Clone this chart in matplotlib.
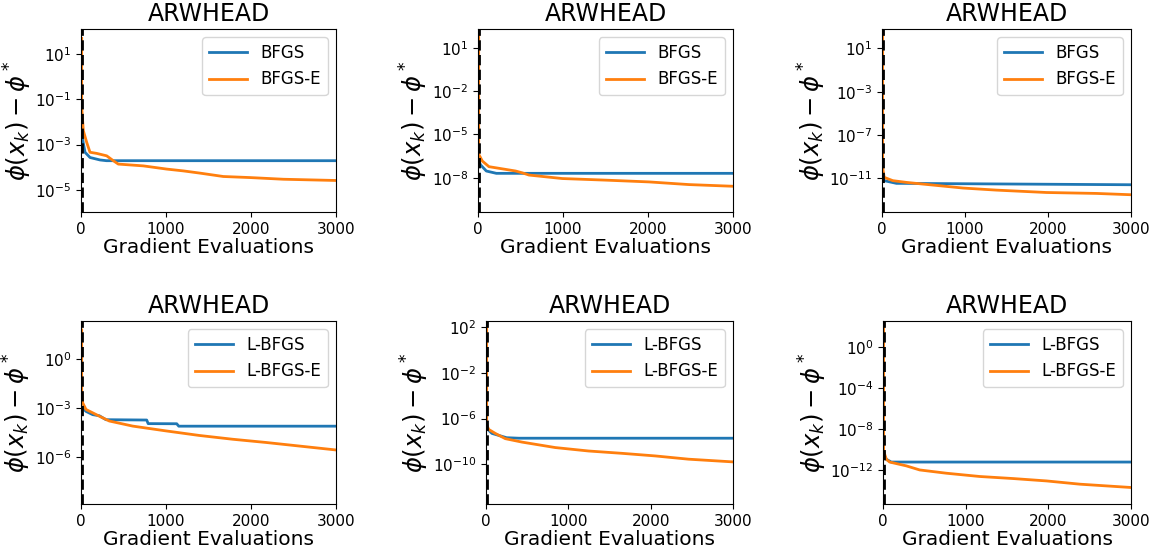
import numpy as np
import matplotlib
matplotlib.use("Agg")
import matplotlib.pyplot as plt

# convergence histories, ARWHEAD, x = gradient evaluations, y = phi(x_k) - phi*
# top row: BFGS vs BFGS-E
p1_bfgs_x = [0, 47, 106, 224, 300, 3000]
p1_bfgs_y = [4.2e-3, 4.6e-4, 2.7e-4, 2.1e-4, 1.95e-4, 1.95e-4]
p1_ext_x = [8, 8, 27, 67, 106, 185, 302, 380, 439, 733, 1008, 1204, 1400, 1674, 1988, 2380, 3000]
p1_ext_y = [50, 4.7e-2, 4.2e-3, 1.26e-3, 4.6e-4, 4.1e-4, 3.2e-4, 1.95e-4, 1.38e-4, 1.15e-4,
            8.3e-5, 6.9e-5, 5.5e-5, 3.9e-5, 3.5e-5, 2.95e-5, 2.6e-5]

p2_bfgs_x = [0, 30, 98, 216, 3000]
p2_bfgs_y = [1.9e-7, 7.9e-8, 2.95e-8, 2.04e-8, 2.04e-8]
p2_ext_x = [8, 8, 51, 129, 443, 522, 600, 992, 1502, 2012, 2482, 3000]
p2_ext_y = [100, 4.3e-7, 1.45e-7, 5.9e-8, 2.95e-8, 2.2e-8, 1.55e-8, 8.9e-9, 6.9e-9, 5.2e-9, 3.4e-9, 2.6e-9]

p3_bfgs_x = [0, 26, 174, 3000]
p3_bfgs_y = [3.6e-11, 6.2e-12, 3.5e-12, 2.6e-12]
p3_ext_x = [8, 8, 26, 130, 292, 493, 976, 1378, 1981, 2584, 3000]
p3_ext_y = [250, 1.05e-10, 1.26e-11, 6.2e-12, 4.3e-12, 3.0e-12, 1.29e-12, 8.3e-13, 5.0e-13, 4.1e-13, 3.1e-13]

# bottom row: L-BFGS vs L-BFGS-E
p4_bfgs_x = [0, 59, 137, 216, 294, 773, 790, 1126, 1150, 3000]
p4_bfgs_y = [1.26e-3, 6.3e-4, 4.0e-4, 3.4e-4, 1.95e-4, 1.86e-4, 1.12e-4, 1.1e-4, 7.8e-5, 7.8e-5]
p4_ext_x = [8, 8, 20, 59, 216, 333, 608, 1000, 1392, 1784, 2176, 2569, 3000]
p4_ext_y = [63, 1.35e-2, 2.1e-3, 8.3e-4, 3.2e-4, 1.62e-4, 7.9e-5, 4.0e-5, 2.1e-5, 1.23e-5, 7.8e-6, 4.7e-6, 2.7e-6]

p5_bfgs_x = [0, 72, 251, 400, 3000]
p5_bfgs_y = [1.55e-7, 5.0e-8, 2.1e-8, 1.9e-8, 1.9e-8]
p5_ext_x = [8, 8, 32, 113, 234, 437, 841, 1246, 1650, 2054, 2459, 3000]
p5_ext_y = [100, 3.0e-7, 1.12e-7, 5.0e-8, 1.74e-8, 8.7e-9, 2.9e-9, 1.45e-9, 9.1e-10, 5.4e-10, 2.8e-10, 1.62e-10]

p6_bfgs_x = [0, 40, 100, 3000]
p6_bfgs_y = [4.8e-11, 1.1e-11, 5.9e-12, 5.9e-12]
p6_ext_x = [8, 8, 40, 80, 282, 444, 767, 1171, 1575, 1979, 2382, 3000]
p6_ext_y = [180, 6.9e-11, 1.1e-11, 5.9e-12, 2.5e-12, 1e-12, 4.8e-13, 2.3e-13, 1.45e-13, 8.5e-14, 4.1e-14, 1.95e-14]

runs = [
    (p1_bfgs_x, p1_bfgs_y, p1_ext_x, p1_ext_y, "BFGS", "BFGS-E", (1.05e-6, 1.3e2), [1e1, 1e-1, 1e-3, 1e-5]),
    (p2_bfgs_x, p2_bfgs_y, p2_ext_x, p2_ext_y, "BFGS", "BFGS-E", (4.3e-11, 2e2), [1e1, 1e-2, 1e-5, 1e-8]),
    (p3_bfgs_x, p3_bfgs_y, p3_ext_x, p3_ext_y, "BFGS", "BFGS-E", (7.9e-15, 6.3e2), [1e1, 1e-3, 1e-7, 1e-11]),
    (p4_bfgs_x, p4_bfgs_y, p4_ext_x, p4_ext_y, "L-BFGS", "L-BFGS-E", (1.3e-9, 2.24e2), [1e0, 1e-3, 1e-6]),
    (p5_bfgs_x, p5_bfgs_y, p5_ext_x, p5_ext_y, "L-BFGS", "L-BFGS-E", (3.4e-14, 3.3e2), [1e2, 1e-2, 1e-6, 1e-10]),
    (p6_bfgs_x, p6_bfgs_y, p6_ext_x, p6_ext_y, "L-BFGS", "L-BFGS-E", (4.8e-16, 3.3e2), [1e0, 1e-4, 1e-8, 1e-12]),
]

# axes boxes in pixels: left, right, top, bottom
boxes = [(81, 336, 29, 212), (478, 733, 29, 212), (882, 1131, 29, 212),
         (81, 336, 321, 504), (486, 733, 321, 504), (883, 1131, 321, 504)]

W, H = 1157, 554
fig = plt.figure(figsize=(W / 100, H / 100), dpi=100)

for (bx, by, ex, ey, lab1, lab2, ylim, yt), (l, r, t, b) in zip(runs, boxes):
    ax = fig.add_axes([l / W, (H - b) / H, (r - l) / W, (b - t) / H])
    ax.plot(bx, by, color="tab:blue", lw=2, label=lab1)
    ax.plot(ex, ey, color="tab:orange", lw=2, label=lab2)
    ax.axvline(8, color="k", ls="--", lw=2)
    ax.set_yscale("log")
    ax.set_xlim(0, 3000)
    ax.set_ylim(*ylim)
    ax.set_yticks(yt)
    ax.minorticks_off()
    ax.set_xticks([0, 1000, 2000, 3000])
    ax.tick_params(labelsize=11)
    ax.set_title("ARWHEAD", fontsize=17)
    ax.set_xlabel("Gradient Evaluations", fontsize=14.5, labelpad=1)
    ax.set_ylabel(r"$\phi(x_k) - \phi^*$", fontsize=17.5, labelpad=1)
    ax.legend(loc="upper right", fontsize=12, handlelength=2.3)

fig.savefig("out.png", dpi=100)
